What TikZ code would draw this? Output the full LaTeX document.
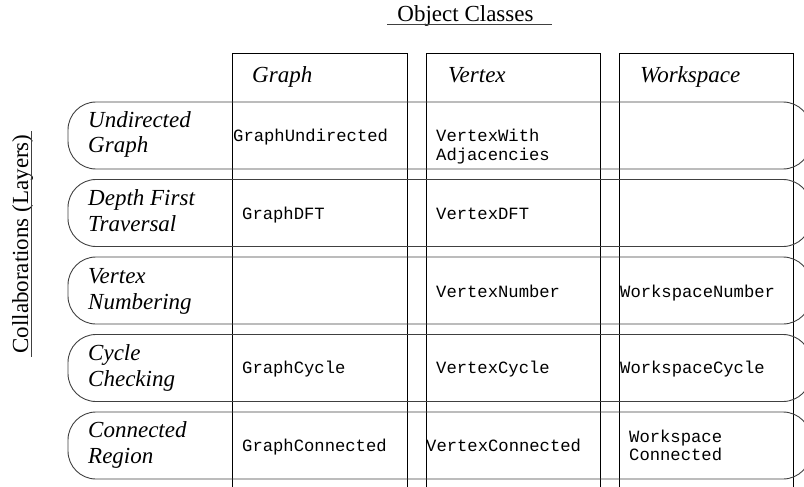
\documentclass[tikz,border=0pt]{standalone}
\usepackage{fontspec}
\setmainfont{Liberation Serif}
\setmonofont{Liberation Mono}
\begin{document}
\begin{tikzpicture}[x=1pt,y=-1pt,
  colline/.style={draw=black,line width=0.8pt},
  rowbox/.style={draw=black!75,line width=0.9pt,rounded corners=28pt,minimum width=743pt,minimum height=67pt,inner sep=0pt},
  serif/.style={font=\fontsize{23}{26.5}\selectfont,inner sep=0pt},
  lab/.style={font=\fontsize{23}{26}\selectfont\itshape,inner sep=0pt,anchor=base west},
  hdr/.style={font=\fontsize{23}{26.5}\selectfont\itshape,inner sep=0pt,anchor=base west},
  cls/.style={font=\fontsize{17.2}{18.8}\selectfont\ttfamily,inner sep=0pt,anchor=base west}
]
\useasboundingbox (0,0) rectangle (804,487);
% title
\node[serif,anchor=base] (title) at (465.5,22) {Object Classes};
\draw[black!75,line width=0.8pt] (387,24.5) coordinate (tl) -- (552,24.5) coordinate (tr);
\node[serif,anchor=base,rotate=90] (side) at (28,244) {Collaborations (Layers)};
\draw[black!75,line width=0.8pt] (31,131) coordinate (sl) -- (31,357) coordinate (sr);
% columns
\draw[colline] (232,53) coordinate (cg) rectangle (407,500);
\draw[colline] (426,53) coordinate (cv) rectangle (600,500);
\draw[colline] (619,53) coordinate (cw) rectangle (793,500);
\node[hdr] (hg) at (252,83) {Graph};
\node[hdr] (hv) at (448,83) {Vertex};
\node[hdr] (hw) at (640,83) {Workspace};
% rows
\node[rowbox] (r1) at (439.5,135.5) {};
\node[rowbox] (r2) at (439.5,213) {};
\node[rowbox] (r3) at (439.5,290.5) {};
\node[rowbox] (r4) at (439.5,368) {};
\node[rowbox] (r5) at (439.5,445.5) {};
% row labels
\node[lab] (l1a) at (88,128) {Undirected};
\node[lab] (l1b) at (88,153) {Graph};
\node[lab] (l2a) at (88,205.5) {Depth First};
\node[lab] (l2b) at (88,231.5) {Traversal};
\node[lab] (l3a) at (88,283) {Vertex};
\node[lab] (l3b) at (88,309) {Numbering};
\node[lab] (l4a) at (88,360) {Cycle};
\node[lab] (l4b) at (88,386) {Checking};
\node[lab] (l5a) at (88,437.5) {Connected};
\node[lab] (l5b) at (88,463.5) {Region};
% classes
\node[cls] (gu) at (233,141) {GraphUndirected};
\node[cls] (va1) at (436,141) {VertexWith};
\node[cls] (va2) at (436,160) {Adjacencies};
\node[cls] (gd) at (242,219) {GraphDFT};
\node[cls] (vd) at (436,219) {VertexDFT};
\node[cls] (vn) at (436,297) {VertexNumber};
\node[cls] (wn) at (620,297) {WorkspaceNumber};
\node[cls] (gc) at (242,373) {GraphCycle};
\node[cls] (vc) at (436,373) {VertexCycle};
\node[cls] (wc) at (620,373) {WorkspaceCycle};
\node[cls] (gn) at (242,451) {GraphConnected};
\node[cls] (vx) at (426,451) {VertexConnected};
\node[cls] (wx1) at (629,442) {Workspace};
\node[cls] (wx2) at (629,460.5) {Connected};
\end{tikzpicture}
\end{document}
